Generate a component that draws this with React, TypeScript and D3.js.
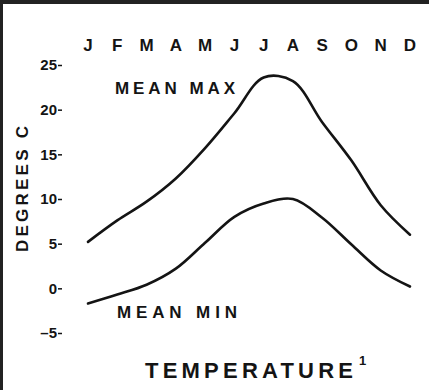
import * as React from 'react'
import { useEffect, useRef } from 'react'
import * as d3 from 'd3'

const months = ['J', 'F', 'M', 'A', 'M', 'J', 'J', 'A', 'S', 'O', 'N', 'D']
const meanMax = [5.2, 7.6, 9.7, 12.3, 15.7, 19.6, 23.6, 23.2, 18.6, 14.3, 9.3, 6.0]
const meanMin = [-1.7, -0.7, 0.4, 2.2, 5.1, 8.0, 9.5, 10.0, 7.9, 4.9, 2.0, 0.2]
const yTicks = [-5, 0, 5, 10, 15, 20, 25]

const WIDTH = 429
const HEIGHT = 390
const FONT = '"Liberation Sans", Arial, sans-serif'
const INK = '#141414'

export default function App() {
  const svgRef = useRef<SVGSVGElement>(null)

  useEffect(() => {
    if (!svgRef.current) return
    const svg = d3.select(svgRef.current)
    svg.selectAll('*').remove()

    // months are indexed so the repeated letters stay distinct
    const x = d3.scalePoint<number>()
      .domain(months.map((_, i) => i))
      .range([88, 410])

    const y = d3.scaleLinear()
      .domain([-5, 25])
      .range([333, 65])

    // frame: heavy rule on top and left only
    svg.append('line')
      .attr('x1', 0).attr('x2', WIDTH)
      .attr('y1', 2).attr('y2', 2)
      .attr('stroke', '#222').attr('stroke-width', 4)
    svg.append('line')
      .attr('x1', 1.5).attr('x2', 1.5)
      .attr('y1', 0).attr('y2', HEIGHT)
      .attr('stroke', '#222').attr('stroke-width', 3)

    // month letters along the top
    svg.append('g')
      .selectAll('text')
      .data(months)
      .join('text')
      .attr('x', (_, i) => x(i)!)
      .attr('y', 51)
      .attr('text-anchor', 'middle')
      .attr('font-family', FONT)
      .attr('font-weight', 'bold')
      .attr('font-size', 17)
      .attr('fill', INK)
      .text(d => d)

    // y axis: numbers with small dashes, no axis line
    const yAxis = d3.axisLeft(y)
      .tickValues(yTicks)
      .tickSize(4)
      .tickPadding(1)
      .tickFormat(d => (d as number) < 0 ? '\u2013' + Math.abs(d as number) : String(d))

    const axisG = svg.append('g')
      .attr('transform', 'translate(62, 0)')
      .call(yAxis as any)
    axisG.select('.domain').remove()
    axisG.selectAll('.tick line')
      .attr('stroke', INK)
      .attr('stroke-width', 1.5)
    axisG.selectAll('.tick text')
      .attr('font-family', FONT)
      .attr('font-weight', 'bold')
      .attr('font-size', 15)
      .attr('fill', INK)

    svg.append('text')
      .attr('transform', 'translate(28, 189) rotate(-90)')
      .attr('text-anchor', 'middle')
      .attr('font-family', FONT)
      .attr('font-weight', 'bold')
      .attr('font-size', 17)
      .attr('fill', INK)
      .attr('textLength', 126)
      .attr('lengthAdjust', 'spacing')
      .text('DEGREES C')

    const line = d3.line<number>()
      .x((_, i) => x(i)!)
      .y(d => y(d))
      .curve(d3.curveCatmullRom.alpha(0.5))

    svg.append('path')
      .attr('d', line(meanMax) || '')
      .attr('fill', 'none')
      .attr('stroke', INK)
      .attr('stroke-width', 2.6)
      .attr('stroke-linecap', 'round')

    svg.append('path')
      .attr('d', line(meanMin) || '')
      .attr('fill', 'none')
      .attr('stroke', INK)
      .attr('stroke-width', 2.6)
      .attr('stroke-linecap', 'round')

    const label = (txt: string, lx: number, ly: number, size: number, len: number) =>
      svg.append('text')
        .attr('x', lx)
        .attr('y', ly)
        .attr('font-family', FONT)
        .attr('font-weight', 'bold')
        .attr('font-size', size)
        .attr('fill', INK)
        .attr('textLength', len)
        .attr('lengthAdjust', 'spacing')
        .text(txt)

    label('MEAN MAX', 115, 94, 17, 120)
    label('MEAN MIN', 117, 318, 17, 120)
    label('TEMPERATURE', 145, 378, 22, 208)

    svg.append('text')
      .attr('x', 359)
      .attr('y', 365)
      .attr('font-family', FONT)
      .attr('font-weight', 'bold')
      .attr('font-size', 13)
      .attr('fill', INK)
      .text('1')
  }, [])

  return (
    <svg
      ref={svgRef}
      width={WIDTH}
      height={HEIGHT}
      style={{ position: 'absolute', left: 0, top: 0, background: '#fff' }}
    />
  )
}
